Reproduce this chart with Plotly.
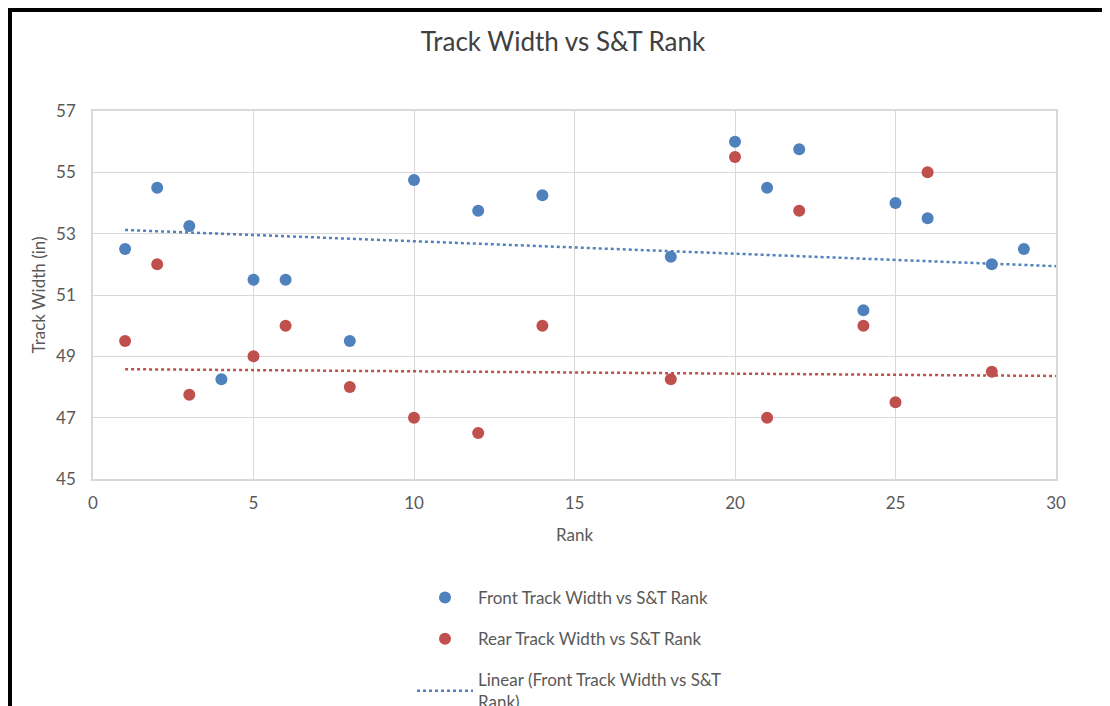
import plotly.graph_objects as go

front_rank = [1, 2, 3, 4, 5, 6, 8, 10, 12, 14, 18, 20, 21, 22, 24, 25, 26, 28, 29]
front_width = [52.5, 54.5, 53.25, 48.25, 51.5, 51.5, 49.5, 54.75, 53.75, 54.25, 52.25, 56.0, 54.5, 55.75, 50.5, 54.0, 53.5, 52.0, 52.5]

rear_rank = [1, 2, 3, 5, 6, 8, 10, 12, 14, 18, 20, 21, 22, 24, 25, 26, 28]
rear_width = [49.5, 52.0, 47.75, 49.0, 50.0, 48.0, 47.0, 46.5, 50.0, 48.25, 55.5, 47.0, 53.75, 50.0, 47.5, 55.0, 48.5]

# linear trendline end points
trend_rank = [1, 30]
front_trend = [53.12, 51.94]
rear_trend = [48.58, 48.36]

x_ticks = [0, 5, 10, 15, 20, 25, 30]
y_ticks = [45, 47, 49, 51, 53, 55, 57]

BLUE = "#4f81bd"
RED = "#c0504d"
FONT = "Lato, Calibri, 'Open Sans', sans-serif"
TXT = "#595959"

fig = go.Figure()
fig.add_trace(go.Scatter(x=front_rank, y=front_width, mode="markers",
                         marker=dict(color=BLUE, size=12),
                         name="Front Track Width vs S&T Rank", legendgroup="a"))
fig.add_trace(go.Scatter(x=rear_rank, y=rear_width, mode="markers",
                         marker=dict(color=RED, size=12),
                         name="Rear Track Width vs S&T Rank", legendgroup="b"))
fig.add_trace(go.Scatter(x=trend_rank, y=front_trend, mode="lines",
                         line=dict(color=BLUE, width=2.5, dash="dot"),
                         name="Linear (Front Track Width vs S&T<br>Rank)", legendgroup="c"))
fig.add_trace(go.Scatter(x=trend_rank, y=rear_trend, mode="lines",
                         line=dict(color=RED, width=2.5, dash="dot"),
                         name="Linear (Rear Track Width vs S&T<br>Rank)", legendgroup="d"))

OFF = 8  # page body margin
L, R, T, B = 93 - OFF, 54 + OFF, 111 - OFF, 227 + OFF
W, H = 1110, 706
pw, ph = W - L - R, H - T - B

def px_x(p):
    return (p - OFF - L) / pw

def px_y(p):
    return (H - B - (p - OFF)) / ph

fig.update_layout(
    width=W, height=H,
    margin=dict(l=L, r=R, t=T, b=B, autoexpand=False),
    paper_bgcolor="white", plot_bgcolor="white",
    font=dict(family=FONT, size=17, color=TXT),
    title=dict(text="Track Width vs S&T Rank", x=(563 - OFF) / W, xanchor="center",
               y=1 - (42 - OFF) / H, yanchor="middle", xref="container", yref="container",
               font=dict(family=FONT, size=26, color="#404040")),
    xaxis=dict(range=[0, 30], tickvals=x_ticks, ticktext=[str(v) for v in x_ticks],
               showgrid=True, gridcolor="#d9d9d9", gridwidth=1.3,
               showline=True, linecolor="#d9d9d9", linewidth=1.5, mirror=True,
               zeroline=False, ticks="", ticklabelstandoff=8,
               tickfont=dict(size=17, color=TXT),
               title=dict(text="Rank", font=dict(size=17, color=TXT), standoff=17)),
    yaxis=dict(range=[45, 57], tickvals=y_ticks, ticktext=[str(v) for v in y_ticks],
               showgrid=True, gridcolor="#d9d9d9", gridwidth=1.3,
               showline=True, linecolor="#d9d9d9", linewidth=1.5, mirror=True,
               zeroline=False, ticks="", ticklabelstandoff=12,
               tickfont=dict(size=17, color=TXT),
               title=dict(text="Track Width (in)", font=dict(size=17, color=TXT), standoff=6)),
    legend=dict(orientation="v", x=px_x(412), xanchor="left", y=px_y(580), yanchor="top",
                font=dict(size=17, color=TXT), tracegroupgap=16,
                bgcolor="rgba(0,0,0,0)", itemwidth=56),
    showlegend=True,
)

# outer black frame (top and left edges visible)
fig.add_shape(type="path", xref="paper", yref="paper",
              path=f"M {px_x(OFF + 2)} {px_y(800)} L {px_x(OFF + 2)} {px_y(OFF + 2)} L {px_x(1300)} {px_y(OFF + 2)}",
              line=dict(color="black", width=4), layer="above")

fig.write_html("out.html")
